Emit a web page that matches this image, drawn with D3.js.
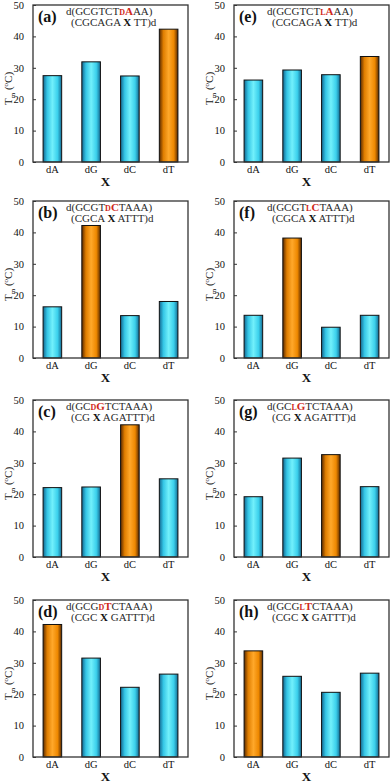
<html>
<head>
  <title>Tm bars</title>
  <script src="https://d3js.org/d3.v7.min.js"></script>
</head>
<style type="text/css">
body { margin: 0; background: #fff; }
.seq { font-family: "Liberation Serif", serif; font-size: 11px; fill: #2a2a2a; }
</style>
<body>
<script>

var width = 392,
    height = 783,
    colLeft = [33, 234],
    rowTop = [5, 201, 400, 600],
    pw = 155,
    ph = 157,
    serif = "'Liberation Serif', 'DejaVu Serif', serif";

// data
var categories = ["dA", "dG", "dC", "dT"];
var yTicks = [0, 10, 20, 30, 40, 50];
var panelNames = ["(a)", "(b)", "(c)", "(d)", "(e)", "(f)", "(g)", "(h)"];

var tmA = [27.5, 31.9, 27.4, 42.3],
    tmB = [16.3, 42.2, 13.5, 18.0],
    tmC = [22.1, 22.3, 42.1, 24.9],
    tmD = [42.2, 31.5, 22.2, 26.4],
    tmE = [26.1, 29.3, 27.8, 33.6],
    tmF = [13.6, 38.2, 9.8, 13.6],
    tmG = [19.2, 31.5, 32.6, 22.4],
    tmH = [33.8, 25.7, 20.6, 26.7];
var panelValues = [tmA, tmB, tmC, tmD, tmE, tmF, tmG, tmH];

// which X pairs with the modified base (orange bar)
var matchIndex = [3, 1, 2, 0, 3, 1, 2, 0];

// sequence strands: before, prefix (D or L), base, after
var strand1 = [
  ["d(GCGTCT", "D", "A", "AA)"],
  ["d(GCGT", "D", "C", "TAAA)"],
  ["d(GC", "D", "G", "TCTAAA)"],
  ["d(GCG", "D", "T", "CTAAA)"],
  ["d(GCGTCT", "L", "A", "AA)"],
  ["d(GCGT", "L", "C", "TAAA)"],
  ["d(GC", "L", "G", "TCTAAA)"],
  ["d(GCG", "L", "T", "CTAAA)"]
];
var strand2 = [
  ["(CGCAGA ", " TT)d"],
  ["(CGCA ", " ATTT)d"],
  ["(CG ", " AGATTT)d"],
  ["(CGC ", " GATTT)d"],
  ["(CGCAGA ", " TT)d"],
  ["(CGCA ", " ATTT)d"],
  ["(CG ", " AGATTT)d"],
  ["(CGC ", " GATTT)d"]
];

var svg = d3.select("body")
  .append("svg")
  .attr("width", width)
  .attr("height", height);

svg.append("rect")
  .attr("width", width)
  .attr("height", height)
  .attr("fill", "white");

var defs = svg.append("defs");

function addGradient(id, stops) {
  var grad = defs.append("linearGradient")
    .attr("id", id)
    .attr("x1", "0%").attr("x2", "100%")
    .attr("y1", "0%").attr("y2", "0%");
  grad.selectAll("stop")
    .data(stops)
    .enter().append("stop")
    .attr("offset", function(d) { return d[0]; })
    .attr("stop-color", function(d) { return d[1]; });
}

addGradient("cyanGrad", [["0%", "#13668f"], ["22%", "#35c6e6"], ["50%", "#72f0fb"], ["78%", "#3bd0ec"], ["100%", "#146a92"]]);
addGradient("orangeGrad", [["0%", "#5a2a00"], ["22%", "#e07e00"], ["50%", "#ffa82a"], ["78%", "#ee8800"], ["100%", "#5a2a00"]]);

var x = d3.scaleBand()
  .domain(categories)
  .range([0, pw])
  .paddingInner(0.52)
  .paddingOuter(0.26);

var y = d3.scaleLinear()
  .domain([0, 50])
  .range([ph, 0]);

for (var p = 0; p < 8; p++) {
  drawPanel(p, colLeft[Math.floor(p / 4)], rowTop[p % 4]);
}

function drawPanel(p, left, top) {
  var g = svg.append("g")
    .attr("transform", "translate(" + left + "," + top + ")");

  // bars
  g.selectAll("rect.bar")
    .data(panelValues[p])
    .enter().append("rect")
    .attr("class", "bar")
    .attr("x", function(d, i) { return x(categories[i]); })
    .attr("y", function(d) { return y(d); })
    .attr("width", x.bandwidth())
    .attr("height", function(d) { return y(0) - y(d); })
    .attr("fill", function(d, i) { return i === matchIndex[p] ? "url(#orangeGrad)" : "url(#cyanGrad)"; })
    .attr("stroke", "#111")
    .attr("stroke-width", 1);

  // frame
  g.append("rect")
    .attr("width", pw)
    .attr("height", ph)
    .attr("fill", "none")
    .attr("stroke", "#333")
    .attr("stroke-width", 1.3);

  // y axis, ticks inside
  var yAxis = g.append("g")
    .call(d3.axisLeft(y).tickValues(yTicks).tickSize(-3).tickPadding(9))
    .attr("font-family", serif)
    .attr("font-size", 10.5);
  yAxis.select(".domain").remove();
  yAxis.selectAll("line").attr("stroke", "#333");
  yAxis.selectAll("text").attr("fill", "#111");

  // x axis labels
  var xAxis = g.append("g")
    .attr("transform", "translate(0," + ph + ")")
    .call(d3.axisBottom(x).tickSize(0).tickPadding(4))
    .attr("font-family", serif)
    .attr("font-size", 10.5);
  xAxis.select(".domain").remove();
  xAxis.selectAll("text").attr("fill", "#111");

  g.append("text")
    .attr("x", pw / 2 - 5)
    .attr("y", ph + 24)
    .attr("text-anchor", "middle")
    .attr("font-family", serif)
    .attr("font-weight", "bold")
    .attr("font-size", 13)
    .attr("fill", "#111")
    .text("X");

  // y title
  var yt = g.append("text")
    .attr("transform", "translate(-21," + (ph / 2 + 5) + ") rotate(-90)")
    .attr("text-anchor", "middle")
    .attr("font-family", serif)
    .attr("font-size", 11)
    .attr("fill", "#111");
  yt.append("tspan").text("T");
  yt.append("tspan").attr("font-size", 7).attr("dy", 2.5).text("m");
  yt.append("tspan").attr("dy", -2.5).text(" (");
  yt.append("tspan").attr("font-size", 7).attr("dy", -4).text("o");
  yt.append("tspan").attr("dy", 4).text("C)");

  // panel label
  g.append("text")
    .attr("x", 5)
    .attr("y", 17)
    .attr("font-family", serif)
    .attr("font-weight", "bold")
    .attr("font-size", 16)
    .attr("fill", "#111")
    .text(panelNames[p]);

  // strand 1
  var s1 = strand1[p];
  var t1 = g.append("text")
    .attr("class", "seq")
    .attr("x", 33)
    .attr("y", 10);
  t1.append("tspan").text(s1[0]);
  t1.append("tspan").attr("fill", "#d0281a").attr("font-weight", "bold").attr("font-size", 8).text(s1[1]);
  t1.append("tspan").attr("fill", "#d0281a").attr("font-weight", "bold").text(s1[2]);
  t1.append("tspan").text(s1[3]);

  // strand 2
  var s2 = strand2[p];
  var t2 = g.append("text")
    .attr("class", "seq")
    .attr("x", 38)
    .attr("y", 21);
  t2.append("tspan").text(s2[0]);
  t2.append("tspan").attr("font-weight", "bold").attr("fill", "#111").text("X");
  t2.append("tspan").text(s2[1]);
}

</script>
</body>
</html>
